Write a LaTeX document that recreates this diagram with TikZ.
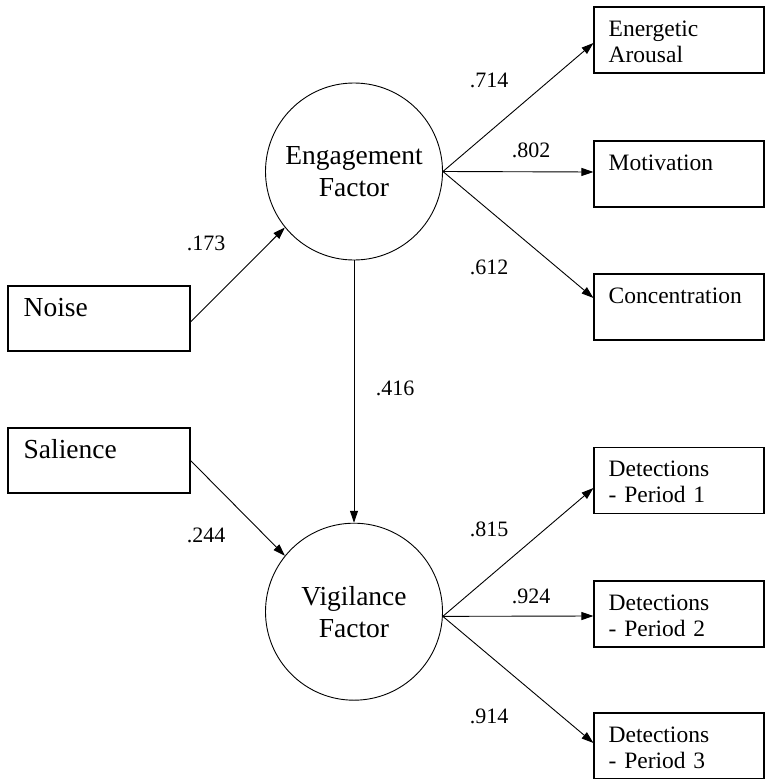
\documentclass[tikz,border=0pt]{standalone}
\usepackage{fontspec}
\setmainfont{Liberation Serif}
\usetikzlibrary{arrows.meta,calc}
\begin{document}
\begin{tikzpicture}[x=1pt,y=-1pt,
  factor/.style={circle,draw,line width=0.9pt,minimum size=177pt,inner sep=0pt,align=center,font=\fontsize{27.5}{32}\selectfont},
  obsbox/.style={draw,line width=1.1pt,minimum width=170pt,minimum height=66pt,inner sep=0pt},
  inbox/.style={draw,line width=1.1pt,minimum width=182pt,minimum height=65pt,inner sep=0pt},
  boxtext/.style={anchor=base west,inner sep=0pt,text width=150pt,align=left,font=\fontsize{23.5}{26}\selectfont},
  intext/.style={anchor=base west,inner sep=0pt,font=\fontsize{27.5}{32}\selectfont},
  coef/.style={inner sep=0pt,font=\fontsize{22}{26}\selectfont},
  link/.style={line width=0.9pt,-{Triangle[length=12pt,width=8pt]}}
]
\useasboundingbox (0,0) rectangle (765,779);

% factors
\node[factor] (eng) at (354,171.5) {Engagement\\Factor};
\node[factor] (vig) at (354,611.7) {Vigilance\\Factor};

% input boxes
\node[inbox] (noise) at (99,318.5) {};
\node[inbox] (sal) at (99,460.5) {};
\node[intext] (noiset) at ([xshift=16pt,yshift=-31pt]noise.north west) {Noise};
\node[intext] (salt) at ([xshift=16pt,yshift=-31pt]sal.north west) {Salience};

% indicator boxes
\node[obsbox] (ener) at (679,40) {};
\node[obsbox] (mot) at (679,174) {};
\node[obsbox] (conc) at (679,307) {};
\node[obsbox] (det1) at (679,480.5) {};
\node[obsbox] (det2) at (679,614) {};
\node[obsbox] (det3) at (679,746) {};

\node[boxtext] (enert) at ([xshift=15pt,yshift=-30pt]ener.north west) {Energetic\\Arousal};
\node[boxtext] (mott) at ([xshift=15pt,yshift=-30pt]mot.north west) {Motivation};
\node[boxtext] (conct) at ([xshift=15pt,yshift=-30pt]conc.north west) {Concentration};
\node[boxtext] (det1t) at ([xshift=15pt,yshift=-30pt]det1.north west) {Detections\\- Period 1};
\node[boxtext] (det2t) at ([xshift=15pt,yshift=-30pt]det2.north west) {Detections\\- Period 2};
\node[boxtext] (det3t) at ([xshift=15pt,yshift=-30pt]det3.north west) {Detections\\- Period 3};

% connectors
\draw[link] ([yshift=-3.5pt]noise.east) -- (eng.219);
\draw[link] (sal.east) -- (vig.141);
\draw[link] (eng.south) -- (vig.north);

\draw[link] (eng.east) -- ([yshift=-3pt]ener.west);
\draw[link] (eng.east) -- ([yshift=2pt]mot.west);
\draw[link] (eng.east) -- ([yshift=9pt]conc.west);

\draw[link] (vig.-3) -- ([yshift=-7.5pt]det1.west);
\draw[link] (vig.-3) -- ([yshift=-2pt]det2.west);
\draw[link] (vig.-3) -- ([yshift=3pt]det3.west);

% coefficients
\node[coef] (c714) at (489,80) {.714};
\node[coef] (c802) at (531,150) {.802};
\node[coef] (c612) at (489,267) {.612};
\node[coef] (c173) at (206,243) {.173};
\node[coef] (c416) at (395,388) {.416};
\node[coef] (c244) at (206,535) {.244};
\node[coef] (c815) at (489,529.5) {.815};
\node[coef] (c924) at (531,596) {.924};
\node[coef] (c914) at (489,716) {.914};
\end{tikzpicture}
\end{document}
